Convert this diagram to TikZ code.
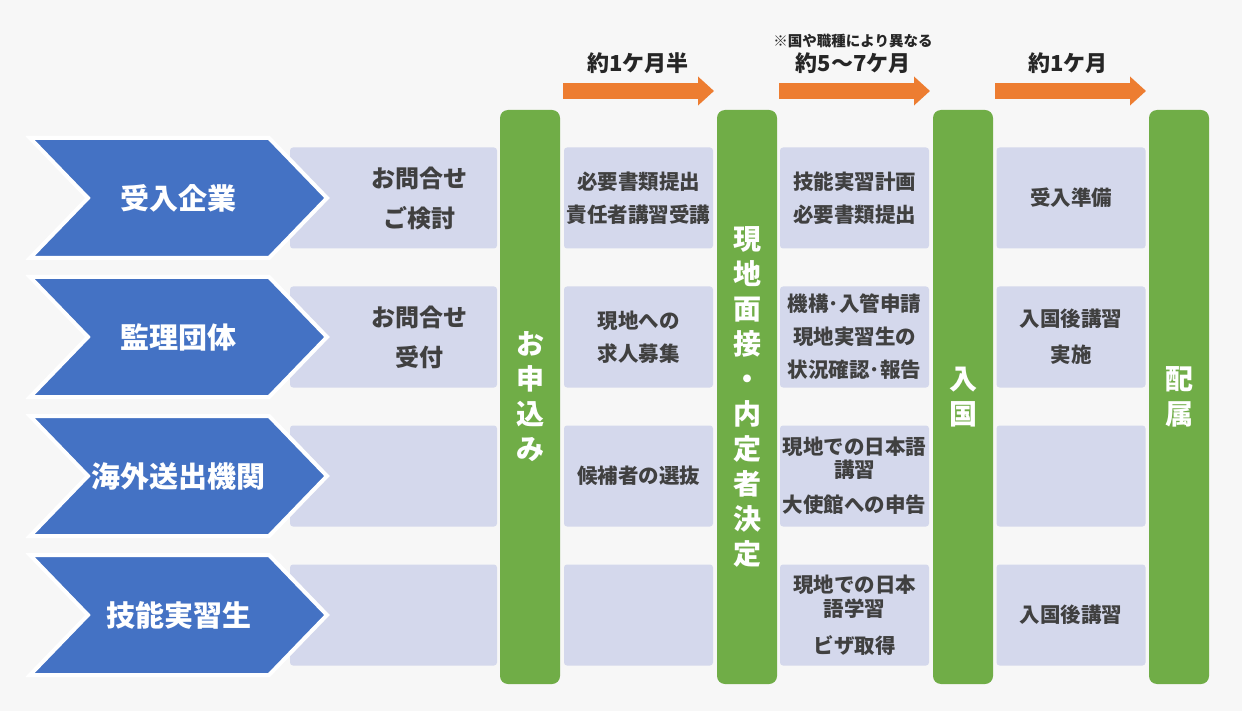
\documentclass[tikz,border=0pt]{standalone}
\usepackage{fontspec}
\setmainfont{Noto Sans CJK JP}
\usepackage{tikz}
\usetikzlibrary{arrows.meta,positioning,shapes.symbols}

\definecolor{bgc}{HTML}{F7F7F7}
\definecolor{chevblue}{HTML}{4472C4}
\definecolor{boxgray}{HTML}{D4D8EC}
\definecolor{stepgreen}{HTML}{70AD47}
\definecolor{periodorange}{HTML}{ED7D31}
\definecolor{txtgray}{HTML}{404040}
\definecolor{labelc}{HTML}{262626}

\begin{document}
\begin{tikzpicture}[x=1pt,y=-1pt,
    party/.style={signal,signal to=east,signal from=west,signal pointer angle=92,
        fill=chevblue,draw=white,line width=4pt,minimum width=297pt,minimum height=120pt,
        inner sep=0pt,text=white,font=\bfseries\fontsize{29}{34}\selectfont},
    task/.style={fill=boxgray,rounded corners=3pt,minimum width=149pt,minimum height=101pt,
        inner sep=0pt,align=center,text=txtgray,font=\bfseries\fontsize{20.5}{33}\selectfont},
    tasktext/.style={inner sep=0pt,align=center,text=txtgray,font=\bfseries\fontsize{24}{40}\selectfont},
    milestone/.style={fill=stepgreen,rounded corners=8pt,minimum width=60pt,minimum height=574pt,
        inner sep=0pt,align=center,text=white,font=\bfseries\fontsize{28}{35}\selectfont},
    period/.style={draw=periodorange,line width=16pt,-{Triangle[width=28pt,length=16pt]}},
    periodlabel/.style={inner sep=0pt,text=labelc,font=\bfseries\fontsize{22}{26}\selectfont}]

    % background
    \fill[bgc] (0,0) rectangle (1242,711);

    % boxes behind the parties
    \node[task,minimum width=207pt] (bA1) at (393.5,198) {};
    \node[task,minimum width=207pt] (bA2) at (393.5,337) {};
    \node[task,minimum width=207pt] (bA3) at (393.5,476) {};
    \node[task,minimum width=207pt] (bA4) at (393.5,615) {};

    % parties
    \node[party] (c1) at (178.5,198) {受入企業};
    \node[party] (c2) at (178.5,337) {監理団体};
    \node[party] (c3) at (178.5,476) {海外送出機関};
    \node[party] (c4) at (178.5,615) {技能実習生};

    \node[tasktext] (tA1) at (419,198) {お問合せ\\ご検討};
    \node[tasktext] (tA2) at (419,337) {お問合せ\\受付};

    % milestones
    \node[milestone] (g1) at (530,397) {お\\申\\込\\み};
    \node[milestone] (g2) at (747,397) {現\\地\\面\\接\\・\\内\\定\\者\\決\\定};
    \node[milestone] (g3) at (963,397) {入\\国};
    \node[milestone] (g4) at (1179,397) {配\\属};

    % tasks
    \node[task] (bB1) at (638.5,198) {必要書類提出\\責任者講習受講};
    \node[task] (bB2) at (638.5,337) {現地への\\求人募集};
    \node[task] (bB3) at (638.5,476) {候補者の選抜};
    \node[task] (bB4) at (638.5,615) {};

    \node[task] (bC1) at (854.5,198) {技能実習計画\\必要書類提出};
    \node[task] (bC2) at (854.5,337) {機構･入管申請\\現地実習生の\\状況確認･報告};
    \node[task,font=\bfseries\fontsize{20.5}{23}\selectfont] (bC3) at (854.5,476)
        {現地での日本語\\講習\\[12pt]大使館への申告};
    \node[task,font=\bfseries\fontsize{20.5}{24}\selectfont] (bC4) at (854.5,615)
        {現地での日本\\語学習\\[13pt]ビザ取得};

    \node[task] (bD1) at (1071,198) {受入準備};
    \node[task,font=\bfseries\fontsize{20.5}{36}\selectfont] (bD2) at (1071,337) {入国後講習\\実施};
    \node[task] (bD3) at (1071,476) {};
    \node[task] (bD4) at (1071,615) {入国後講習};

    % periods
    \coordinate (p1s) at (563,91);
    \coordinate (p1e) at (714,91);
    \coordinate (p2s) at (779,91);
    \coordinate (p2e) at (930,91);
    \coordinate (p3s) at (995,91);
    \coordinate (p3e) at (1146,91);
    \draw[period] (p1s) -- (p1e);
    \draw[period] (p2s) -- (p2e);
    \draw[period] (p3s) -- (p3e);

    \coordinate (p1m) at (638,91);
    \coordinate (p2m) at (853,91);
    \coordinate (p3m) at (1068,91);
    \node[periodlabel,above=17pt of p1m] (l1) {約1ケ月半};
    \node[periodlabel,above=17pt of p2m] (l2) {約5～7ケ月};
    \node[periodlabel,above=17pt of p3m] (l3) {約1ケ月};
    \node[periodlabel,font=\bfseries\fontsize{14.5}{16}\selectfont,above=5pt of l2] (n2) {※国や職種により異なる};
\end{tikzpicture}
\end{document}
